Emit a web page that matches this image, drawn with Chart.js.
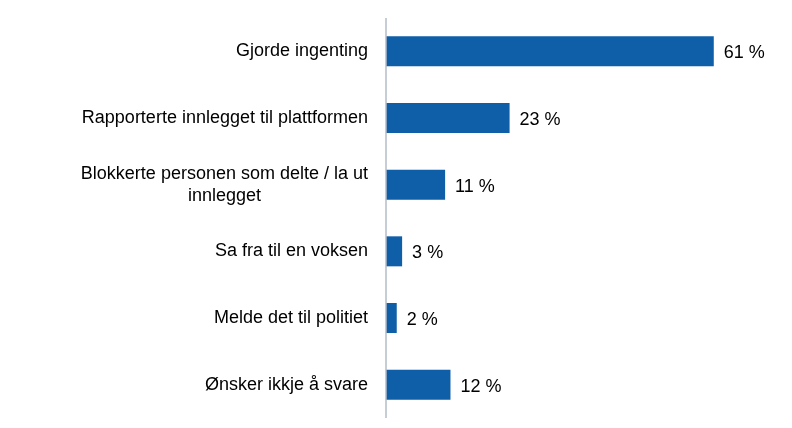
<!DOCTYPE html>
<html><head><meta charset="utf-8">
<script src="https://cdn.jsdelivr.net/npm/chart.js@4"></script>
<style>html,body{margin:0;background:#fff}#wrap{width:792px;height:428px}</style>
</head><body><div id="wrap"><canvas id="c"></canvas></div>
<script>
const categories = [
  ['Gjorde ingenting'],
  ['Rapporterte innlegget til plattformen'],
  ['Blokkerte personen som delte / la ut', 'innlegget'],
  ['Sa fra til en voksen'],
  ['Melde det til politiet'],
  ['Ønsker ikkje å svare']
];
const values = [61, 23, 11, 3, 2, 12];
const barColor = '#0F5EA8';
const font = '18px "Liberation Sans", Arial, sans-serif';

const labelPlugin = {
  id: 'labels',
  afterDraw(chart) {
    const ctx = chart.ctx;
    const ys = chart.scales.y, xs = chart.scales.x;
    ctx.save();
    ctx.font = font;
    ctx.fillStyle = '#000';
    ctx.textBaseline = 'middle';
    categories.forEach((lines, i) => {
      const y = ys.getPixelForValue(i);
      const right = xs.left - 18;
      const lh = 22;
      const y0 = y - (lines.length - 1) * lh / 2;
      if (lines.length === 1) {
        ctx.textAlign = 'right';
        ctx.fillText(lines[0], right, y0);
      } else {
        const w = Math.max(...lines.map(l => ctx.measureText(l).width));
        ctx.textAlign = 'center';
        lines.forEach((l, k) => ctx.fillText(l, right - w / 2, y0 + k * lh));
      }
      ctx.textAlign = 'left';
      ctx.fillText(values[i] + ' %', xs.getPixelForValue(values[i]) + 10, y + 2);
    });
    ctx.strokeStyle = '#B4BCC8';
    ctx.lineWidth = 1.5;
    ctx.beginPath();
    ctx.moveTo(xs.left, chart.chartArea.top);
    ctx.lineTo(xs.left, chart.chartArea.bottom);
    ctx.stroke();
    ctx.restore();
  }
};

new Chart(document.getElementById('c'), {
  type: 'bar',
  data: {
    labels: categories.map(l => l.join(' ')),
    datasets: [{ data: values, backgroundColor: barColor, categoryPercentage: 1, barPercentage: 0.45 }]
  },
  options: {
    indexAxis: 'y',
    responsive: true,
    maintainAspectRatio: false,
    animation: false,
    layout: { padding: { left: 386, right: 3, top: 18, bottom: 10 } },
    plugins: { legend: { display: false }, tooltip: { enabled: false } },
    scales: {
      x: { min: 0, max: 75, display: false },
      y: { display: false }
    }
  },
  plugins: [labelPlugin]
});
</script></body></html>
